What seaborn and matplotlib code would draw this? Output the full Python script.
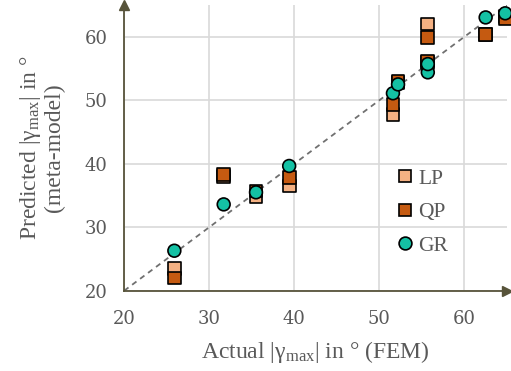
import numpy as np
import pandas as pd
import matplotlib
matplotlib.use("Agg")
import matplotlib.pyplot as plt
import seaborn as sns

# ---- data ----
actual = [25.9, 31.7, 35.5, 39.4, 51.6, 52.2, 55.7, 55.7, 62.5, 64.8]
lp = [23.5, 38.0, 34.8, 36.5, 47.7, 52.8, 62.0, 56.0, 60.3, 63.2]
qp = [22.0, 38.3, 35.7, 37.8, 49.3, 53.0, 59.9, 56.2, 60.35, 62.9]
gr = [26.3, 33.6, 35.5, 39.65, 51.1, 52.5, 54.4, 55.7, 63.05, 63.7]
models = ["LP", "QP", "GR"]
ticks = [20, 30, 40, 50, 60]

df = pd.DataFrame({
    "actual": actual * 3,
    "pred": lp + qp + gr,
    "model": ["LP"] * len(lp) + ["QP"] * len(qp) + ["GR"] * len(gr),
})

sns.set_theme(style="white")
plt.rcParams["font.family"] = ["Liberation Serif", "DejaVu Serif"]
plt.rcParams["mathtext.fontset"] = "custom"
plt.rcParams["mathtext.rm"] = "Liberation Serif"
plt.rcParams["mathtext.it"] = "Liberation Serif:italic"

fig = plt.figure(figsize=(5.11, 3.71), dpi=100)
ax = fig.add_axes([0.243, 0.2164, 0.749, 0.770])

spine_c = "#57533a"
text_c = "#595959"

# identity line
ax.plot([20, 65], [20, 65], ls=(0, (3, 2.5)), color="#707070", lw=1.3, zorder=2)

palette = {"LP": "#F4B183", "QP": "#C55A11", "GR": "#14C1A4"}
markers = {"LP": "s", "QP": "s", "GR": "o"}
sns.scatterplot(data=df, x="actual", y="pred", hue="model", style="model",
                hue_order=models, style_order=models, palette=palette,
                markers=markers, s=85, edgecolor="black", linewidth=1.2,
                ax=ax, zorder=3, clip_on=False, legend=True)

ax.set_xlim(20, 65)
ax.set_ylim(20, 65)
ax.set_xticks(ticks)
ax.set_yticks(ticks)
ax.grid(True, color="#d9d9d9", lw=1.2, zorder=0)
ax.set_axisbelow(True)

for s in ["top", "right"]:
    ax.spines[s].set_visible(False)
for s in ["left", "bottom"]:
    ax.spines[s].set_color(spine_c)
    ax.spines[s].set_linewidth(1.3)

ax.tick_params(axis="both", direction="out", length=5, width=1.2, color=spine_c,
               labelcolor=text_c, labelsize=13, pad=7)
ax.tick_params(axis="x", pad=9)
for lab in ax.get_xticklabels() + ax.get_yticklabels():
    lab.set_fontfamily("DejaVu Serif")

# arrows on axes
ax.plot(1, 0, marker=">", color=spine_c, ms=7, transform=ax.transAxes, clip_on=False, zorder=5)
ax.plot(0, 1, marker="^", color=spine_c, ms=7, transform=ax.transAxes, clip_on=False, zorder=5)

ax.set_xlabel("Actual |γ$_{\\mathrm{max}}$| in ° (FEM)", color=text_c, fontsize=17, labelpad=8)
ax.set_ylabel("Predicted |γ$_{\\mathrm{max}}$| in °\n(meta-model)", color=text_c, fontsize=17,
              labelpad=14, linespacing=1.08)

leg = ax.legend(loc="center left", bbox_to_anchor=(0.67, 0.275), frameon=False,
                handlelength=0.9, handletextpad=0.15, labelspacing=0.62, fontsize=15.5,
                borderpad=0.2)
for t in leg.get_texts():
    t.set_color(text_c)

fig.savefig("out.png", dpi=100)
